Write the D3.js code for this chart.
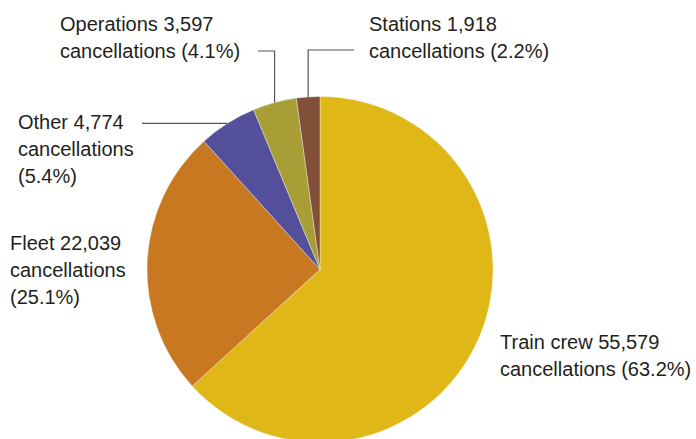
<!DOCTYPE html>
<html>
<head>
<meta charset="utf-8">
<script src="https://cdn.jsdelivr.net/npm/d3@7"></script>
<style>
  html, body { margin: 0; padding: 0; background: #fff; }
  svg { display: block; }
  text { font-family: "Liberation Sans", Arial, Helvetica, sans-serif; font-size: 20px; fill: #231f20; }
</style>
</head>
<body>
<svg id="chart" width="696" height="439"></svg>
<script>
// Cancellations by responsible category
const categories = ["Train crew", "Fleet", "Other", "Operations", "Stations"];
const cancellations = [55579, 22039, 4774, 3597, 1918];
const percentLabels = ["63.2%", "25.1%", "5.4%", "4.1%", "2.2%"];
const sliceColors = ["#dfb817", "#c87820", "#544f9a", "#a89e35", "#824f38"];

const svg = d3.select("#chart");
const cx = 320, cy = 269.5, radius = 173;

const data = categories.map((c, i) => ({ name: c, value: cancellations[i], pct: percentLabels[i], color: sliceColors[i] }));

const pie = d3.pie().sort(null).value(d => d.value);
const arcs = pie(data);
const arc = d3.arc().innerRadius(0).outerRadius(radius);

const g = svg.append("g").attr("transform", `translate(${cx},${cy})`);
g.selectAll("path")
  .data(arcs)
  .join("path")
  .attr("d", arc)
  .attr("fill", d => d.data.color)
  .attr("stroke", "rgba(255,255,255,0.6)")
  .attr("stroke-width", 0.6);

// Point on the rim at the middle of a slice, in page coordinates
function rimPoint(a) {
  const m = (a.startAngle + a.endAngle) / 2;
  return [cx + radius * Math.sin(m), cy - radius * Math.cos(m)];
}

const fmt = d3.format(",");

// Label layout: lines of text, anchor position and leader path shape
const layout = {
  "Train crew": { x: 500, y: 349, lines: d => [`${d.name} ${fmt(d.value)}`, `cancellations (${d.pct})`] },
  "Fleet":      { x: 10,  y: 250, lines: d => [`${d.name} ${fmt(d.value)}`, "cancellations", `(${d.pct})`] },
  "Other":      { x: 18,  y: 129, lines: d => [`${d.name} ${fmt(d.value)}`, "cancellations", `(${d.pct})`],
                  leader: p => [[p[0], p[1]], [142, p[1]]] },
  "Operations": { x: 60,  y: 31,  lines: d => [`${d.name} ${fmt(d.value)}`, `cancellations (${d.pct})`],
                  leader: p => [[p[0], p[1]], [p[0], 51], [258, 51]] },
  "Stations":   { x: 369, y: 31,  lines: d => [`${d.name} ${fmt(d.value)}`, `cancellations (${d.pct})`],
                  leader: p => [[p[0], p[1]], [p[0], 50], [354, 50]] }
};

const lineHeight = 27;
const line = d3.line();

arcs.forEach(a => {
  const L = layout[a.data.name];
  if (L.leader) {
    const p = rimPoint(a);
    svg.append("path")
      .attr("d", line(L.leader(p)))
      .attr("fill", "none")
      .attr("stroke", "#555")
      .attr("stroke-width", 1.2);
  }
  const t = svg.append("text").attr("x", L.x).attr("y", L.y);
  L.lines(a.data).forEach((s, i) => {
    t.append("tspan").attr("x", L.x).attr("y", L.y + i * lineHeight).text(s);
  });
});
</script>
</body>
</html>
